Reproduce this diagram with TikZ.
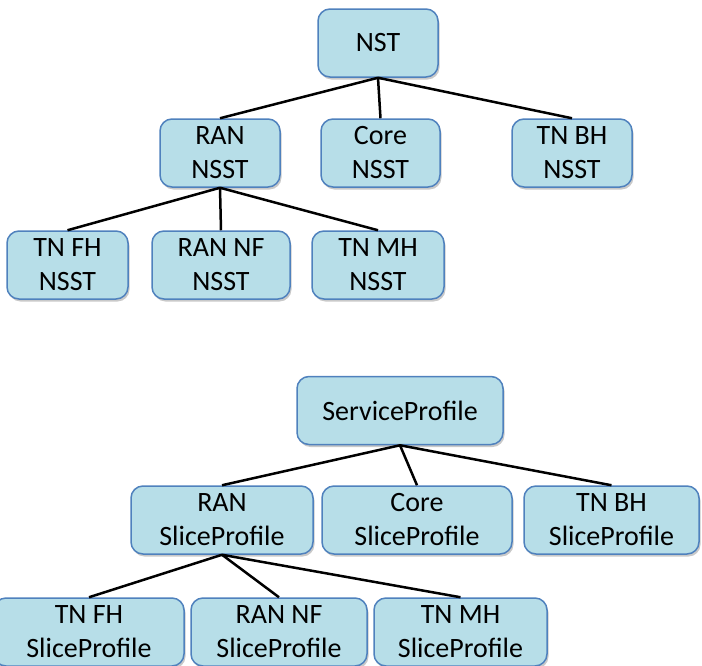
\documentclass[tikz,border=0pt]{standalone}
\usepackage{fontspec}
\setmainfont{Carlito}
\usetikzlibrary{positioning, shadows}

\definecolor{boxFill}{HTML}{B7DEE8}
\definecolor{boxLine}{HTML}{4F81BD}

\tikzset{
	tbox/.style={draw=boxLine, fill=boxFill, line width=1.5pt, rounded corners=12pt,
		align=center, inner sep=0pt, minimum height=68pt,
		font=\fontsize{28}{34}\selectfont,
		drop shadow={shadow xshift=1.5pt, shadow yshift=-2.5pt, opacity=0.3, fill=black!70}},
	branch/.style={line width=2.5pt, black}
}

\begin{document}
\begin{tikzpicture}[x=1pt, y=-1pt]
		
		\useasboundingbox (0,0) rectangle (702,665);
		
		%Template tree
		\node (nst) at (378,43) [tbox, minimum width=120pt]{NST};
		
		\node (ranNsst) at (220,153) [tbox, minimum width=120pt]{RAN\\NSST};
		\node (coreNsst) at (380.5,153) [tbox, minimum width=119pt]{Core\\NSST};
		\node (bhNsst) at (572,153) [tbox, minimum width=120pt]{TN BH\\NSST};
		
		\node (fhNsst) at (67.5,265) [tbox, minimum width=121pt]{TN FH\\NSST};
		\node (nfNsst) at (221,265) [tbox, minimum width=138pt]{RAN NF\\NSST};
		\node (mhNsst) at (378,265) [tbox, minimum width=132pt]{TN MH\\NSST};
		
		%Template branches
		\draw[branch] (nst.south) -- (ranNsst.north);
		\draw[branch] (nst.south) -- (coreNsst.north);
		\draw[branch] (nst.south) -- (bhNsst.north);
		\draw[branch] (ranNsst.south) -- (fhNsst.north);
		\draw[branch] (ranNsst.south) -- (nfNsst.north);
		\draw[branch] (ranNsst.south) -- (mhNsst.north);
		
		
		%%%%%%%%%%%%%%%%%%%%%%%%%%%%%%%%%%%%%
		%Profile tree
		\node (service) at (400,410.5) [tbox, minimum width=206pt]{ServiceProfile};
		
		\node (ranSlice) at (222,520) [tbox, minimum width=182pt]{RAN\\SliceProfile};
		\node (coreSlice) at (417,520) [tbox, minimum width=190pt]{Core\\SliceProfile};
		\node (bhSlice) at (611.5,520) [tbox, minimum width=175pt]{TN BH\\SliceProfile};
		
		\node (fhSlice) at (89,632) [tbox, minimum width=190pt]{TN FH\\SliceProfile};
		\node (nfSlice) at (279,632) [tbox, minimum width=176pt]{RAN NF\\SliceProfile};
		\node (mhSlice) at (460.5,632) [tbox, minimum width=173pt]{TN MH\\SliceProfile};
		
		%Profile branches
		\draw[branch] (service.south) -- (ranSlice.north);
		\draw[branch] (service.south) -- (coreSlice.north);
		\draw[branch] (service.south) -- (bhSlice.north);
		\draw[branch] (ranSlice.south) -- (fhSlice.north);
		\draw[branch] (ranSlice.south) -- (nfSlice.north);
		\draw[branch] (ranSlice.south) -- (mhSlice.north);
		
\end{tikzpicture}
\end{document}
